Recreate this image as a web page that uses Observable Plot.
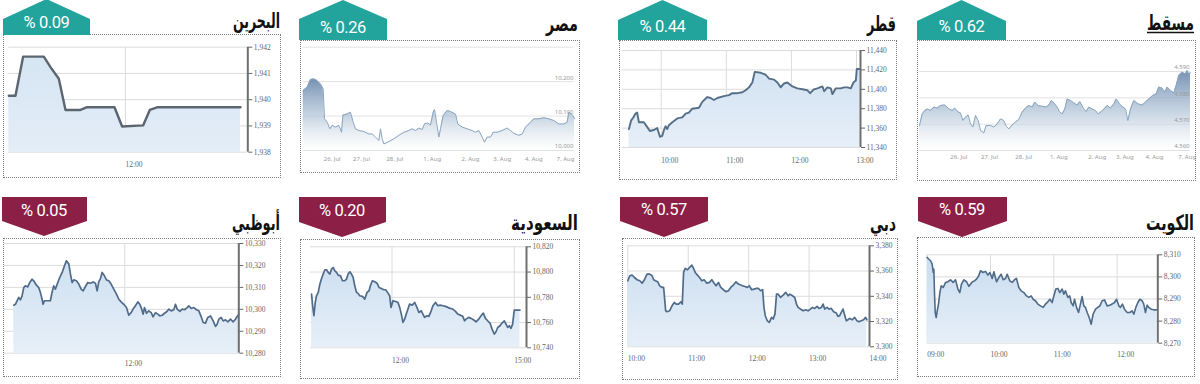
<!DOCTYPE html>
<html><head><meta charset="utf-8">
<script src="https://cdn.jsdelivr.net/npm/d3@7"></script>
<script src="https://cdn.jsdelivr.net/npm/@observablehq/plot@0.6"></script>
<style>
html,body{margin:0;padding:0;background:#fff;}
#stage{position:relative;width:1200px;height:384px;overflow:hidden;background:#fff;}
.box{position:absolute;box-sizing:border-box;border:1px dotted #7a7a7a;}
.chart{position:absolute;}
#overlay{position:absolute;left:0;top:0;}
</style></head><body><div id="stage"></div>
<script>
// ---------------- DATA ----------------
const marketNames = ["البحرين","مصر","قطر","مسقط","أبوظبي","السعودية","دبي","الكويت"];
const marketChange = ["% 0.09","% 0.26","% 0.44","% 0.62","% 0.05","% 0.20","% 0.57","% 0.59"];

// Bahrain (minutes since 09:30)
const bahrainTime = [0,8.6,18.4,45,53.6,64.3,72.9,92.1,99.9,135.9,145.7,172.7,181.3,190.7,297.9];
const bahrainValue = [1940.15,1940.15,1941.64,1941.64,1941.24,1940.8,1939.61,1939.61,1939.71,1939.71,1938.98,1939.02,1939.61,1939.71,1939.71];
const bahrainTicksY = [1938,1939,1940,1941,1942];
const bahrainTicksX = [150];
const bahrainTickLabels = ["12:00"];

// Egypt (trading-session position)
const egyptTime = [0.8,2.0,3.0,4.0,5.0,6.0,6.8,7.2,8.0,8.8,9.5,10.5,11.5,12.3,12.7,14.0,15.0,15.8,16.5,17.5,19.0,20.5,21.5,22.5,23.5,24.0,24.5,25.0,26.5,28.0,29.5,31.0,32.5,33.5,34.5,35.5,36.5,37.2,38.2,39.0,39.8,40.2,40.8,41.5,42.0,42.8,44.0,45.0,46.5,47.2,48.5,50.0,51.5,52.5,53.5,54.5,55.2,56.0,57.0,57.8,59.0,60.5,62.0,63.0,64.0,65.5,66.5,67.5,69.0,70.0,71.5,73.0,74.5,76.0,77.5,79.0,80.0,80.5,81.2,81.8,82.2];
const egyptValue = [10174,10184,10206,10208,10203,10193,10179,10092,10082,10063,10073,10068,10073,10053,10103,10106,10111,10082,10063,10058,10055,10048,10048,10039,10029,10063,10034,10019,10026,10034,10044,10053,10058,10063,10058,10065,10061,10077,10080,10074,10111,10119,10082,10039,10063,10101,10116,10113,10106,10077,10068,10063,10058,10053,10058,10039,10024,10039,10039,10053,10053,10058,10065,10058,10050,10044,10048,10068,10082,10092,10092,10095,10092,10087,10077,10077,10082,10111,10106,10101,10092];
const egyptGrid = [10000,10100,10200,10300];
const egyptLabelTicks = [10000,10100,10200];
const egyptTicksX = [9.5,18.3,28.3,39.5,51,60.5,70,79.5];
const egyptTickLabels = ["26. Jul","27. Jul","28. Jul","1. Aug","2. Aug","3. Aug","4. Aug","7. Aug"];

// Qatar (minutes since 09:30)
const qatarTime = [0.2,2.3,4.2,6.3,7.8,9.4,14.0,17.1,19.5,23.2,26.3,28.8,30.9,32.5,34.0,35.5,37.1,40.2,44.8,49.4,52.5,55.5,58.6,64.8,67.8,72.5,75.5,78.6,81.7,87.8,92.5,95.5,100.2,104.8,107.8,110.9,114.0,116.2,121.7,126.3,129.4,134.0,137.1,140.2,143.2,146.3,150.9,155.5,160.2,164.8,167.2,170.9,174.0,178.6,180.2,183.2,186.3,187.8,190.9,195.5,198.6,201.7,204.8,207.2,209.4,210.3,213.4];
const qatarValue = [11359,11368,11371,11375,11376,11366,11366,11361,11357,11358,11360,11351,11352,11358,11362,11359,11363,11366,11370,11371,11375,11376,11380,11381,11387,11392,11391,11389,11391,11393,11394,11396,11396,11397,11399,11402,11407,11418,11417,11415,11411,11410,11407,11402,11406,11407,11403,11401,11400,11399,11396,11400,11401,11403,11398,11402,11401,11395,11401,11401,11402,11402,11401,11407,11409,11421,11421];
const qatarTicksY = [11340,11360,11380,11400,11420,11440];
const qatarTicksX = [30,90,150,210];
const qatarTickLabels = ["10:00","11:00","12:00","13:00"];

// Muscat (trading-session position)
const muscatTime = [1.2,2.0,2.8,3.5,4.5,5.5,6.5,7.5,8.8,10.0,11.0,11.8,12.8,13.5,14.2,15.0,15.8,16.5,17.2,18.0,18.8,19.5,20.5,21.2,22.5,23.5,24.5,25.5,26.5,27.2,28.0,29.0,30.0,31.0,32.0,33.0,34.0,35.0,35.8,36.8,38.0,39.2,40.0,40.8,41.8,42.5,43.2,44.0,44.8,45.5,46.5,47.5,48.5,49.3,50.5,51.2,52.0,53.0,54.0,54.8,55.8,56.8,57.5,58.5,59.5,60.2,61.2,62.2,63.0,63.7,64.5,65.5,66.8,68.0,69.0,70.0,71.2,72.2,73.0,74.0,74.8,75.5,76.5,77.5,78.2,79.0,80.0,81.0,81.5,82.0,82.5];
const muscatValue = [4569.5,4573.9,4575.2,4575.8,4575.2,4576.5,4576.1,4577.1,4577.3,4575.8,4575.2,4576.1,4574.6,4574.3,4571.4,4572.7,4573.5,4570.1,4568.9,4573.3,4571.4,4567.6,4566.7,4569.5,4569.5,4568.9,4570.1,4572.0,4571.4,4569.2,4568.2,4569.7,4570.8,4571.8,4574.6,4576.1,4577.1,4576.5,4578.4,4577.1,4576.8,4576.5,4577.3,4579.0,4577.7,4576.5,4574.8,4573.9,4575.8,4579.6,4579.0,4578.1,4577.3,4578.6,4575.8,4574.8,4576.5,4575.8,4575.2,4573.9,4574.8,4576.1,4577.1,4576.1,4577.7,4579.6,4577.7,4576.5,4575.8,4571.4,4575.8,4579.0,4577.7,4577.3,4578.4,4579.6,4580.9,4581.5,4584.1,4583.7,4582.2,4584.1,4582.8,4581.9,4584.7,4588.5,4589.7,4589.1,4590.4,4589.1,4589.5];
const muscatGrid = [4560,4570,4580,4590];
const muscatLabelTicks = [4560,4570,4580,4590];
const muscatTicksX = [13,22.2,32.5,43,54.5,62.8,71.7,81.5];
const muscatTickLabels = ["26. Jul","27. Jul","28. Jul","1. Aug","2. Aug","3. Aug","4. Aug","7. Aug"];

// Abu Dhabi (minutes since 10:00)
const abuDhabiTime = [0,1.8,3.6,5.4,7.2,9.0,10.8,12.6,15.1,17.3,19.8,21.6,24.5,27.0,28.8,30.6,31.7,33.2,36.0,39.6,41.4,43.2,45.0,47.6,49.7,52.3,54.8,56.9,59.5,61.3,63.1,64.9,67.7,70.3,72.8,75.0,77.5,80.0,82.9,85.8,88.3,90.1,91.9,93.7,95.5,98.0,100.2,102.7,105.2,108.1,111.0,113.5,116.0,118.9,121.8,124.3,126.8,129.0,131.5,134.1,136.2,137.7,139.8,141.3,143.4,145.9,148.5,150.6,153.2,155.7,157.8,160.4,162.9,165.0,167.6,170.1,173.0,174.8,176.6,179.5,182.0,184.5,187.4,189.2,191.7,194.6,197.5,200.0,202.5,204.7,207.2,209.7,212.6,215.5,218.0,219.8,221.6,224.1,226.3,228.8,231.4,234.2,237.1,239.6,241.4,243.2];
const abuDhabiValue = [10301.9,10302.3,10303.9,10305.4,10304.3,10306.1,10309.9,10310.7,10310.2,10312.2,10313.7,10313.0,10311.0,10309.9,10307.7,10304.6,10302.3,10303.9,10303.9,10303.9,10307.7,10310.7,10309.2,10312.2,10314.5,10316.8,10319.8,10322.1,10320.6,10316.0,10312.2,10313.4,10313.0,10311.5,10309.2,10308.4,10310.4,10312.2,10311.9,10312.5,10311.9,10308.4,10312.5,10314.0,10316.8,10315.3,10313.4,10313.0,10311.5,10309.2,10306.9,10304.6,10303.4,10302.3,10300.8,10297.3,10298.5,10300.1,10301.6,10303.4,10302.3,10300.8,10297.8,10300.8,10298.2,10299.3,10298.5,10296.6,10298.5,10297.8,10297.0,10297.3,10298.2,10298.8,10300.1,10299.3,10299.8,10302.3,10300.1,10299.1,10300.1,10299.8,10300.8,10301.6,10300.4,10300.8,10299.8,10299.3,10296.7,10294.0,10293.7,10296.3,10297.0,10294.7,10292.2,10293.2,10295.5,10296.3,10294.7,10295.2,10294.3,10295.5,10294.3,10295.5,10296.7,10297.8];
const abuDhabiTicksY = [10280,10290,10300,10310,10320,10330];
const abuDhabiTicksX = [120];
const abuDhabiTickLabels = ["12:00"];

// Saudi (minutes since 10:00)
const saudiTime = [1.6,3.1,5.0,7.0,8.9,11.4,13.8,16.3,18.7,21.2,23.6,26.1,28.5,31.0,33.4,35.9,38.3,40.7,44.2,47.1,50.5,53.0,55.4,57.9,60.3,62.8,65.2,67.7,70.1,72.5,76.5,79.9,83.3,86.2,88.2,91.1,94.6,98.0,100.9,104.3,107.8,110.7,114.1,116.6,118.5,121.5,125.4,128.8,131.3,133.7,136.1,138.6,141.0,143.5,145.9,149.8,153.3,156.7,159.6,163.1,165.5,167.9,171.4,174.3,177.7,180.2,184.1,187.5,190.9,194.9,198.8,202.2,205.6,209.5,213.4,216.9,220.3,224.2,226.7,229.1,233.0,236.4,239.9,243.8,247.7,251.1,254.5,257.5,260.9,264.3,267.3,270.7,273.1,275.6,279.0,281.9,285.4,287.8,290.3,292.7,295.1,297.6,300.0,302.5,308.4];
const saudiValue = [10782.5,10773.3,10765.4,10775.9,10781.2,10783.9,10790.4,10794.9,10798.4,10801.8,10801.8,10799.7,10798.4,10802.3,10803.6,10801.0,10799.7,10797.6,10797.0,10793.1,10793.1,10794.4,10798.4,10800.2,10798.4,10795.7,10789.1,10783.9,10783.1,10781.2,10780.7,10778.6,10783.9,10785.2,10789.1,10793.1,10792.3,10791.2,10787.8,10787.0,10786.0,10786.0,10783.3,10781.2,10772.0,10777.3,10776.7,10775.9,10772.0,10766.7,10760.1,10762.7,10766.7,10770.7,10774.6,10773.8,10775.9,10772.0,10768.0,10769.3,10766.7,10764.1,10765.4,10764.9,10769.3,10773.3,10775.9,10773.3,10773.8,10773.3,10772.8,10772.0,10771.2,10770.7,10768.8,10766.7,10765.9,10764.9,10761.4,10762.7,10764.1,10763.3,10762.2,10760.6,10762.7,10765.4,10767.5,10763.3,10761.4,10759.6,10754.8,10750.9,10752.7,10756.1,10757.5,10759.6,10761.4,10758.8,10756.1,10757.5,10755.4,10758.8,10769.9,10769.9,10769.9];
const saudiTicksY = [10740,10760,10780,10800,10820];
const saudiTicksX = [120,300];
const saudiTickLabels = ["12:00","15:00"];

// Dubai (minutes since 10:00)
const dubaiTime = [0,2.0,4.3,6.6,9.2,11.9,14.2,16.5,19.1,21.8,24.1,25.7,27.4,29.7,31.7,34.0,35.6,36.6,37.6,38.9,41.5,43.9,46.2,48.1,50.4,52.8,54.1,55.4,57.0,59.3,61.3,63.6,65.3,66.9,69.2,71.2,73.5,75.8,78.5,81.1,83.4,85.7,87.7,90.0,92.3,95.0,97.6,99.9,102.2,104.8,107.5,109.8,112.1,114.1,116.4,118.7,120.7,123.0,125.3,127.3,129.6,131.9,133.9,135.2,136.5,138.5,140.5,142.8,144.4,146.1,147.7,149.4,151.7,154.3,156.9,159.2,160.9,163.5,165.8,167.5,169.1,171.4,174.1,176.7,179.0,181.3,183.3,185.6,187.9,189.9,192.2,193.9,195.5,197.8,199.8,202.1,204.4,207.1,208.7,210.4,212.0,213.7,215.3,217.0,218.6,220.2,222.9,225.2,227.5,229.5,231.8,234.1,236.1,237.4];
const dubaiValue = [3352.3,3356.3,3356.8,3354.9,3353.1,3352.3,3350.4,3353.1,3357.6,3357.6,3356.3,3353.1,3352.3,3351.5,3348.3,3347.0,3347.0,3337.8,3328.5,3327.8,3328.5,3332.5,3335.1,3333.8,3333.8,3335.7,3333.8,3358.9,3362.1,3361.0,3362.8,3364.7,3362.1,3358.9,3356.8,3354.9,3352.3,3353.1,3350.4,3351.0,3353.1,3350.4,3348.3,3351.0,3347.0,3345.2,3343.6,3344.4,3347.0,3348.9,3351.5,3349.7,3348.9,3348.3,3347.8,3347.0,3348.3,3345.2,3345.7,3346.2,3346.2,3344.4,3345.2,3331.2,3324.6,3320.6,3319.3,3323.3,3322.0,3325.9,3341.7,3341.7,3339.1,3340.9,3343.1,3340.4,3341.7,3340.4,3339.1,3333.8,3331.2,3329.9,3328.5,3329.3,3328.5,3329.9,3331.2,3330.4,3332.0,3330.4,3331.2,3333.8,3329.9,3331.2,3329.9,3330.4,3327.8,3326.7,3324.1,3324.6,3327.2,3329.9,3325.1,3320.6,3321.4,3322.5,3321.4,3323.3,3320.6,3319.8,3320.6,3321.4,3323.3,3321.4];
const dubaiTicksY = [3300,3320,3340,3360,3380];
const dubaiTicksX = [0,60,120,180,240];
const dubaiTickLabels = ["10:00","11:00","12:00","13:00","14:00"];

// Kuwait (minutes since 09:00)
const kuwaitTime = [0,1.6,3.2,4.7,5.7,6.3,6.9,7.6,8.5,9.5,10.7,12.0,13.3,15.2,17.4,19.6,22.1,24.6,26.8,29.1,30.9,32.5,34.7,37.3,39.5,41.0,42.9,44.8,46.7,48.9,50.5,53.0,55.3,57.5,59.4,61.6,63.2,65.7,67.9,70.1,72.0,74.2,75.8,78.3,80.5,82.7,84.6,86.8,89.0,91.6,94.1,96.3,98.5,100.4,102.6,104.8,107.4,109.9,112.1,114.3,116.2,118.4,120.0,121.9,123.8,125.7,127.9,129.5,131.0,133.3,135.1,136.4,138.3,139.6,141.5,143.4,145.2,146.8,148.4,150.0,151.6,153.5,155.4,157.2,159.5,161.7,163.6,165.8,168.0,170.5,173.0,175.2,177.5,179.4,181.6,183.1,185.0,186.9,189.5,192.0,194.2,195.8,197.7,199.6,201.5,203.7,205.2,206.8,208.4,210.0,212.2,214.7,217.2];
const kuwaitValue = [8308.8,8308.0,8307.3,8305.8,8302.0,8303.5,8292.9,8283.8,8281.6,8284.6,8287.7,8292.9,8296.0,8295.2,8297.5,8297.8,8298.7,8297.5,8298.7,8294.5,8292.9,8296.7,8298.7,8297.8,8295.7,8296.7,8297.8,8298.2,8299.0,8300.5,8302.8,8302.0,8302.5,8300.8,8302.0,8299.3,8302.3,8297.8,8299.7,8301.2,8298.7,8299.3,8301.2,8298.2,8297.5,8298.7,8299.3,8295.2,8293.7,8292.9,8291.4,8290.7,8291.4,8289.9,8289.2,8287.7,8286.9,8286.2,8287.7,8288.7,8289.9,8288.4,8291.4,8294.5,8294.8,8292.9,8294.5,8292.2,8293.7,8290.7,8291.4,8288.4,8286.9,8289.9,8286.2,8283.9,8287.7,8291.1,8286.9,8286.2,8283.9,8281.6,8278.6,8283.1,8285.4,8286.2,8286.9,8289.2,8289.6,8286.9,8287.2,8287.7,8288.4,8289.9,8286.9,8286.2,8287.7,8285.4,8283.9,8283.9,8284.6,8283.1,8286.2,8288.4,8289.9,8289.2,8287.7,8283.9,8287.2,8286.2,8285.4,8285.1,8285.1];
const kuwaitTicksY = [8270,8280,8290,8300,8310];
const kuwaitTicksX = [0,60,120,180];
const kuwaitTickLabels = ["09:00","10:00","11:00","12:00"];

// ---------------- LAYOUT ----------------
const UP = "#22a39b", DOWN = "#8c1f45";
const panels = [
  {id:"bh", type:"A", box:[3,34,278,144], m:[5.3,33.7,12.7,26.3], xDomain:[0,307.3], time:bahrainTime, value:bahrainValue, yTicks:bahrainTicksY, xTicks:bahrainTicksX, xLabels:bahrainTickLabels, dy:15, stroke:"#5b6670", sw:2.4, grad:["#d6e5f3","#e3edf7"]},
  {id:"eg", type:"B", box:[300,40,280,133], m:[2.7,6,6.7,23], xDomain:[0.8,82.2], yDomain:[10000,10300], time:egyptTime, value:egyptValue, grid:egyptGrid, yLabelTicks:egyptLabelTicks, xTicks:egyptTicksX, xLabels:egyptTickLabels, dy:10},
  {id:"qa", type:"A", box:[619,40,278,140], m:[2.7,37,10,33], xDomain:[-6,213.7], time:qatarTime, value:qatarValue, yTicks:qatarTicksY, xTicks:qatarTicksX, xLabels:qatarTickLabels, dy:15, stroke:"#566f89", sw:1.9, grad:["#d2e2f2","#e6eff8"]},
  {id:"mu", type:"B", box:[917,40,279,141], m:[2,6,4.7,31], xDomain:[1.2,82.5], yDomain:[4560,4600], time:muscatTime, value:muscatValue, grid:muscatGrid, yLabelTicks:muscatLabelTicks, xTicks:muscatTicksX, xLabels:muscatTickLabels, dy:8},
  {id:"ad", type:"A", box:[3,238,278,139], m:[1,42.7,5,24.3], xDomain:[-10,243.2], time:abuDhabiTime, value:abuDhabiValue, yTicks:abuDhabiTicksY, xTicks:abuDhabiTicksX, xLabels:abuDhabiTickLabels, dy:12.6, stroke:"#506c8a", sw:1.7, grad:["#cfe0f1","#e6eff8"]},
  {id:"sa", type:"A", box:[300,239,280,140], m:[10,54,7.3,31.7], xDomain:[0,318], time:saudiTime, value:saudiValue, yTicks:saudiTicksY, xTicks:saudiTicksX, xLabels:saudiTickLabels, dy:14.7, stroke:"#506c8a", sw:1.7, grad:["#cfe0f1","#e6eff8"]},
  {id:"du", type:"A", box:[622,238,276,142], m:[5.3,29,7.3,33.7], xDomain:[0,240], time:dubaiTime, value:dubaiValue, yTicks:dubaiTicksY, xTicks:dubaiTicksX, xLabels:dubaiTickLabels, dy:14, stroke:"#506c8a", sw:1.7, grad:["#cfe0f1","#e6eff8"]},
  {id:"kw", type:"A", box:[917,237,278,140], m:[9.7,37.7,17.3,34.3], xDomain:[0,218.5], time:kuwaitTime, value:kuwaitValue, yTicks:kuwaitTicksY, xTicks:kuwaitTicksX, xLabels:kuwaitTickLabels, dy:13.3, stroke:"#4f6b89", sw:1.6, grad:["#c9dcef","#e6eff8"]}
];
// badges: [left, right, shoulderY, baseY, apexX, apexY, textX, textBaseline, colour]
const badges = [
  [3,90,19,35,46.5,-1,46.5,28, UP],
  [299,387,19,40,343,0,343,32.5, UP],
  [618,707,20,40,662.5,0,662.5,32, UP],
  [917,1006,21,40,961.5,0,961.5,32, UP],
  [2,87,221,197,44,236,44,215.5, DOWN],
  [299,386,222,197,342,237,342,216, DOWN],
  [620,708,221,197,664,237,664,215, DOWN],
  [918,1007,221,197,962,237,962,215, DOWN]
];
// titles: [rightX, baseline, width, underline]
const titles = [[280,28,47,false],[578,31,32,false],[896,31,29,false],[1194,30,47,true],[280,230,48,false],[578,230,67,false],[896,231,26,false],[1194,230,48,false]];

// ---------------- RENDER ----------------
const NS = "http://www.w3.org/2000/svg";
function addGradient(svg, id, stops) {
  const defs = document.createElementNS(NS, "defs");
  const g = document.createElementNS(NS, "linearGradient");
  g.setAttribute("id", id);
  g.setAttribute("x1","0"); g.setAttribute("y1","0"); g.setAttribute("x2","0"); g.setAttribute("y2","1");
  for (const [off, col, op] of stops) {
    const s = document.createElementNS(NS, "stop");
    s.setAttribute("offset", off); s.setAttribute("stop-color", col); s.setAttribute("stop-opacity", op);
    g.appendChild(s);
  }
  defs.appendChild(g);
  svg.insertBefore(defs, svg.firstChild);
}
const serif = "'Liberation Serif', 'DejaVu Serif', serif";
function panelA(p) {
  const data = p.time.map((t, i) => ({t, v: p.value[i]}));
  const y0 = d3.min(p.yTicks), y1 = d3.max(p.yTicks);
  const gid = "grad-" + p.id;
  const svg = Plot.plot({
    width: p.box[2], height: p.box[3],
    marginLeft: p.m[0], marginRight: p.m[1], marginTop: p.m[2], marginBottom: p.m[3],
    x: {domain: p.xDomain, axis: null},
    y: {domain: [y0, y1], label: null},
    style: {background: "transparent", overflow: "visible"},
    marks: [
      Plot.gridY(p.yTicks, {stroke: "#dcdcdc", strokeOpacity: 1}),
      Plot.gridX(p.xTicks, {stroke: "#dcdcdc", strokeOpacity: 1}),
      Plot.areaY(data, {x: "t", y1: y0, y2: "v", fill: `url(#${gid})`}),
      Plot.lineY(data, {x: "t", y: "v", stroke: p.stroke, strokeWidth: p.sw, strokeLinejoin: "round"}),
      Plot.ruleX([p.xDomain[1]], {y1: y0, y2: y1, stroke: "#6e6e6e", strokeWidth: 2}),
      Plot.axisY(p.yTicks, {anchor: "right", label: null, tickSize: 4, tickPadding: 2, tickFormat: d3.format(","), fontSize: 7.5, fontFamily: serif, color: "#666"}),
      Plot.text(p.xTicks, {x: d => d, text: (d, i) => p.xLabels[i], frameAnchor: "bottom", dy: p.dy, textAnchor: "start", fontSize: 7.5, fontFamily: serif, fill: "#666"})
    ]
  });
  addGradient(svg, gid, [[0, p.grad[0], 1], [1, p.grad[1], 1]]);
  return svg;
}
function panelB(p) {
  const data = p.time.map((t, i) => ({t, v: p.value[i]}));
  const gid = "grad-" + p.id;
  const svg = Plot.plot({
    width: p.box[2], height: p.box[3],
    marginLeft: p.m[0], marginRight: p.m[1], marginTop: p.m[2], marginBottom: p.m[3],
    x: {domain: p.xDomain, axis: null},
    y: {domain: p.yDomain, axis: null},
    style: {background: "transparent", overflow: "visible"},
    marks: [
      Plot.gridY(p.grid, {stroke: "#e2e2e2", strokeOpacity: 1}),
      Plot.areaY(data, {x: "t", y1: p.yDomain[0], y2: "v", fill: `url(#${gid})`}),
      Plot.lineY(data, {x: "t", y: "v", stroke: "#8aa5c1", strokeWidth: 1}),
      Plot.text(p.yLabelTicks, {y: d => d, text: d => d3.format(",")(d), frameAnchor: "right", dx: -1, dy: -4, textAnchor: "end", fontSize: 6, fill: "#9a9a9a"}),
      Plot.text(p.xTicks, {x: d => d, text: (d, i) => p.xLabels[i], frameAnchor: "bottom", dy: p.dy, fontSize: 6, fill: "#9a9a9a"})
    ]
  });
  addGradient(svg, gid, [[0, "#6584a9", 0.9], [0.55, "#afc2d6", 0.65], [1, "#ffffff", 0.4]]);
  return svg;
}

const stage = document.getElementById("stage");
for (const p of panels) {
  const [L, T, W, H] = p.box;
  const wrap = document.createElement("div");
  wrap.className = "chart";
  wrap.style.left = L + "px"; wrap.style.top = T + "px";
  wrap.appendChild(p.type === "A" ? panelA(p) : panelB(p));
  stage.appendChild(wrap);
  const box = document.createElement("div");
  box.className = "box";
  Object.assign(box.style, {left: L + "px", top: T + "px", width: W + "px", height: H + "px"});
  stage.appendChild(box);
}

// overlay: badges + titles
let s = `<svg id="overlay" width="1200" height="384" xmlns="${NS}">`;
badges.forEach((b, i) => {
  const [l, r, sh, base, ax, ay, tx, tb, col] = b;
  const pts = [[l, base], [l, sh], [ax, ay], [r, sh], [r, base]].map(d => d.join(",")).join(" ");
  s += `<polygon points="${pts}" fill="${col}"/>`;
  s += `<text x="${tx}" y="${tb}" text-anchor="middle" fill="#fff" font-family="Roboto, 'Open Sans', sans-serif" font-size="16.5" letter-spacing="-0.4" direction="ltr">${marketChange[i]}</text>`;
});
titles.forEach((t, i) => {
  s += `<text class="ttl" data-i="${i}" x="0" y="0" text-anchor="end" fill="#111" font-family="'DejaVu Sans', sans-serif" font-weight="bold" font-size="21">${marketNames[i]}</text>`;
});
s += `</svg>`;
stage.insertAdjacentHTML("beforeend", s);
// squeeze each title horizontally to the reference width
document.querySelectorAll("#overlay text.ttl").forEach(el => {
  const [rx, bl, w, ul] = titles[+el.dataset.i];
  const w0 = el.getComputedTextLength();
  const k = w / w0;
  el.setAttribute("transform", `translate(${rx},${bl}) scale(${k},1)`);
  if (ul) {
    const line = document.createElementNS(NS, "line");
    line.setAttribute("x1", rx - w); line.setAttribute("x2", rx);
    line.setAttribute("y1", bl + 2.5); line.setAttribute("y2", bl + 2.5);
    line.setAttribute("stroke", "#111"); line.setAttribute("stroke-width", 1.3);
    el.parentNode.appendChild(line);
  }
});
</script></body></html>
